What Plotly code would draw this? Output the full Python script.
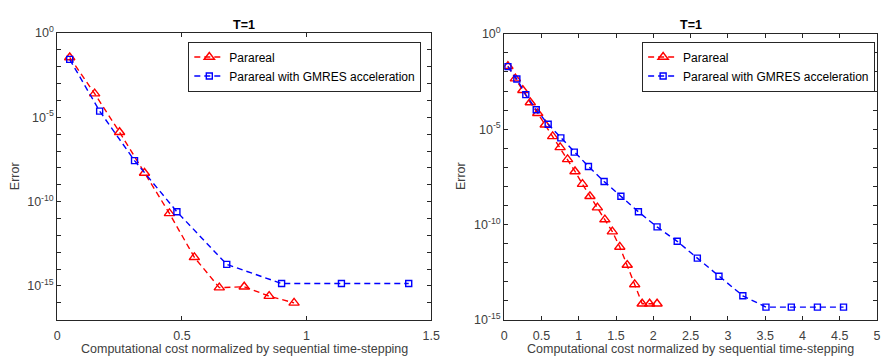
import plotly.graph_objects as go

# ---------------- data ----------------
left_para_x = [0.05, 0.15, 0.25, 0.35, 0.45, 0.55, 0.65, 0.75, 0.85, 0.95]
left_para_err = [3.5e-2, 2.5e-4, 1.3e-6, 5e-9, 2e-11, 5e-14, 8e-16, 9e-16, 2.5e-16, 1e-16]

left_gmres_x = [0.05, 0.17, 0.31, 0.48, 0.68, 0.90, 1.14, 1.41]
left_gmres_err = [2.7e-2, 2.3e-5, 2.7e-8, 2.5e-11, 1.9e-14, 1.4e-15, 1.4e-15, 1.4e-15]

right_para_x = [0.05, 0.15, 0.25, 0.35, 0.45, 0.55, 0.65, 0.75, 0.85, 0.95,
                1.05, 1.15, 1.25, 1.35, 1.45, 1.55, 1.65, 1.75, 1.85, 1.95, 2.05]
right_para_err = [2.0e-2, 4.5e-3, 1.1e-3, 2.5e-4, 6.8e-5, 1.7e-5, 4.2e-6, 1.1e-6, 2.6e-7, 6.0e-8,
                  1.3e-8, 3.0e-9, 7.6e-10, 1.8e-10, 4.2e-11, 6.6e-12, 7.4e-13, 7.1e-14,
                  6.9e-15, 6.9e-15, 6.9e-15]

right_gmres_x = [0.05, 0.17, 0.29, 0.43, 0.59, 0.76, 0.94, 1.13, 1.34, 1.565,
                 1.80, 2.05, 2.32, 2.59, 2.88, 3.20, 3.51, 3.85, 4.20, 4.55]
right_gmres_err = [1.9e-2, 4.3e-3, 6.5e-4, 1.05e-4, 1.8e-5, 3.5e-6, 6.2e-7, 1.1e-7, 1.8e-8, 3.0e-9,
                   4.6e-10, 7.4e-11, 1.3e-11, 1.7e-12, 1.9e-13, 1.8e-14, 4.6e-15, 4.6e-15, 4.6e-15, 4.6e-15]

series_names = ["Parareal", "Parareal with GMRES acceleration"]
title_text = "T=1"
xlabel = "Computational cost normalized by sequential time-stepping"
ylabel = "Error"

left_xticks = [0, 0.5, 1, 1.5]
left_xticktext = ["0", "0.5", "1", "1.5"]
right_xticks = [0, 0.5, 1, 1.5, 2, 2.5, 3, 3.5, 4, 4.5, 5]
right_xticktext = ["0", "0.5", "1", "1.5", "2", "2.5", "3", "3.5", "4", "4.5", "5"]
left_decades = list(range(-17, 1))
right_decades = list(range(-15, 1))

# ---------------- styling ----------------
W, H = 893, 364
RED = "#ff0000"
BLUE = "#0000ff"
AXC = "#262626"
TXT = "#404040"
FONT = "Liberation Sans, Arial, Helvetica, sans-serif"
DASH = "6px,4px"
FS = 12.5


def ylog_ticks(decades):
    vals = [10.0 ** d for d in decades]
    text = [("10<sup>%d</sup>" % d) if d % 5 == 0 else "" for d in decades]
    return vals, text


fig = go.Figure()

def add_pair(px, py, gx, gy, xa, ya, lg, show):
    fig.add_trace(go.Scatter(
        x=px, y=py, mode="lines+markers", name=series_names[0],
        line=dict(color=RED, width=1.4, dash=DASH),
        marker=dict(symbol="triangle-up-open", size=9, color=RED, line=dict(width=1.4, color=RED)),
        xaxis=xa, yaxis=ya, legend=lg, showlegend=show))
    fig.add_trace(go.Scatter(
        x=gx, y=gy, mode="lines+markers", name=series_names[1],
        line=dict(color=BLUE, width=1.4, dash=DASH),
        marker=dict(symbol="square-open", size=6, color=BLUE, line=dict(width=1.4, color=BLUE)),
        xaxis=xa, yaxis=ya, legend=lg, showlegend=show))

add_pair(left_para_x, left_para_err, left_gmres_x, left_gmres_err, "x", "y", "legend", True)
add_pair(right_para_x, right_para_err, right_gmres_x, right_gmres_err, "x2", "y2", "legend2", True)

lyv, lyt = ylog_ticks(left_decades)
ryv, ryt = ylog_ticks(right_decades)

common_x = dict(showline=True, linecolor=AXC, linewidth=1, mirror="ticks", ticks="inside",
                ticklen=4, tickcolor=AXC, showgrid=False, zeroline=False, ticklabelstandoff=4,
                tickfont=dict(family=FONT, size=FS, color=TXT))
common_y = dict(type="log", showline=True, linecolor=AXC, linewidth=1, mirror="ticks",
                ticks="inside", ticklen=4, tickcolor=AXC, showgrid=False, zeroline=False,
                tickfont=dict(family=FONT, size=FS, color=TXT))

LEGFONT = dict(family=FONT, size=12, color="#000000")

fig.update_layout(
    width=W, height=H,
    margin=dict(l=0, r=0, t=0, b=0),
    paper_bgcolor="white", plot_bgcolor="white",
    font=dict(family=FONT, size=FS, color=TXT),
    xaxis=dict(domain=[55 / W, 434 / W], range=[0, 1.5], anchor="y",
               tickvals=left_xticks, ticktext=left_xticktext, **common_x),
    yaxis=dict(domain=[1 - 325 / H, 1 - 25 / H], range=[-17, 0], anchor="x",
               tickvals=lyv, ticktext=lyt, **common_y),
    xaxis2=dict(domain=[508 / W, 886 / W], range=[0, 5], anchor="y2",
                tickvals=right_xticks, ticktext=right_xticktext, **common_x),
    yaxis2=dict(domain=[1 - 325 / H, 1 - 26 / H], range=[-15, 0], anchor="x2",
                tickvals=ryv, ticktext=ryt, **common_y),
    legend=dict(x=424 / W, y=1 - 34 / H, xanchor="right", yanchor="top",
                bordercolor="#262626", borderwidth=1, bgcolor="white",
                font=LEGFONT, itemwidth=30, tracegroupgap=0),
    legend2=dict(x=884 / W, y=1 - 34 / H, xanchor="right", yanchor="top",
                 bordercolor="#262626", borderwidth=1, bgcolor="white",
                 font=LEGFONT, itemwidth=30, tracegroupgap=0),
    showlegend=True,
)

annos = []
for cx in [(55 + 434) / 2, (508 + 886) / 2]:
    annos.append(dict(x=cx / W, y=1 - 17 / H, xref="paper", yref="paper", text="<b>%s</b>" % title_text,
                      showarrow=False, font=dict(family=FONT, size=FS, color="#000000"),
                      xanchor="center", yanchor="middle"))
    annos.append(dict(x=cx / W, y=1 - 356 / H, xref="paper", yref="paper", text=xlabel,
                      showarrow=False, font=dict(family=FONT, size=FS, color=TXT),
                      xanchor="center", yanchor="middle"))
for lx, cy in [(12, 175), (465, 175)]:
    annos.append(dict(x=lx / W, y=1 - cy / H, xref="paper", yref="paper", text=ylabel,
                      showarrow=False, textangle=-90, font=dict(family=FONT, size=FS, color=TXT),
                      xanchor="center", yanchor="middle"))
fig.update_layout(annotations=annos)

fig.write_html("out.html")
